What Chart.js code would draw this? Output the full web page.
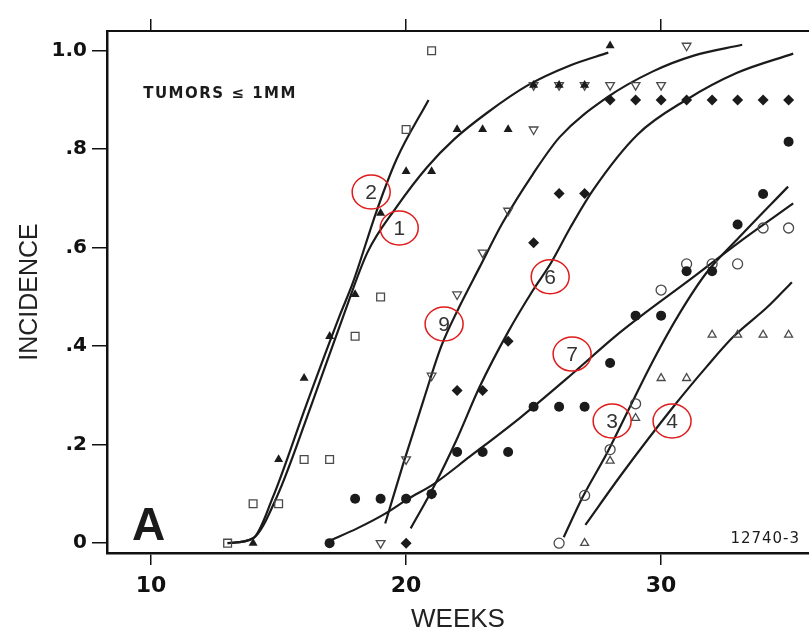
<!DOCTYPE html>
<html>
<head>
<meta charset="utf-8">
<script src="https://cdn.jsdelivr.net/npm/chart.js@4.4.1/dist/chart.umd.min.js"></script>
<style>
  html, body { margin: 0; padding: 0; background: #fff; overflow: hidden; }
  #wrap { width: 809px; height: 630px; }
  canvas { display: block; }
</style>
</head>
<body>
<div id="wrap"><canvas id="chart" width="809" height="630"></canvas></div>
<script>
// axis ticks
const xTicks = [10, 20, 30];
const yTicks = [0, 0.2, 0.4, 0.6, 0.8, 1.0];
const yTickLabels = ["0", ".2", ".4", ".6", ".8", "1.0"];

// observed incidence, one array pair per symbol
const squareWeeks = [13, 14, 15, 16, 17, 18, 19, 20, 21];
const squareVals  = [0, 0.08, 0.08, 0.17, 0.17, 0.42, 0.5, 0.84, 1.0];

const triWeeks = [14, 15, 16, 17, 18, 19, 20, 21, 22, 23, 24, 25, 26, 27, 28];
const triVals  = [0, 0.17, 0.335, 0.42, 0.505, 0.67, 0.755, 0.755, 0.84, 0.84, 0.84, 0.93, 0.93, 0.93, 1.01];

const downWeeks = [19, 20, 21, 22, 23, 24, 25, 25, 26, 27, 28, 29, 30, 31];
const downVals  = [0, 0.17, 0.34, 0.505, 0.59, 0.675, 0.84, 0.93, 0.93, 0.93, 0.93, 0.93, 0.93, 1.01];

const diamondWeeks = [20, 21, 22, 23, 24, 25, 26, 27, 28, 29, 30, 31, 32, 33, 34, 35];
const diamondVals  = [0, 0.1, 0.31, 0.31, 0.41, 0.61, 0.71, 0.71, 0.9, 0.9, 0.9, 0.9, 0.9, 0.9, 0.9, 0.9];

const dotWeeks = [17, 18, 19, 20, 21, 22, 23, 24, 25, 26, 27, 28, 29, 30, 31, 32, 33, 34, 35];
const dotVals  = [0, 0.09, 0.09, 0.09, 0.1, 0.185, 0.185, 0.185, 0.277, 0.277, 0.277, 0.366, 0.462, 0.462, 0.552, 0.552, 0.647, 0.709, 0.815];

const ringWeeks = [26, 27, 28, 29, 30, 31, 32, 33, 34, 35];
const ringVals  = [0, 0.097, 0.19, 0.283, 0.514, 0.567, 0.567, 0.567, 0.64, 0.64];

const openTriWeeks = [27, 28, 29, 30, 31, 32, 33, 34, 35];
const openTriVals  = [0, 0.167, 0.254, 0.335, 0.335, 0.423, 0.423, 0.423, 0.423];

// fitted curves
const curve1Weeks = [13, 14, 14.93, 16.28, 17.53, 18.48, 19.63, 20.83, 21.88, 23.18, 24.78, 26.43, 27.93];
const curve1Vals  = [0, 0.01, 0.094, 0.28, 0.46, 0.59, 0.683, 0.764, 0.82, 0.874, 0.93, 0.97, 0.996];

const curve2Weeks = [13, 14, 14.78, 16.08, 17.38, 17.92, 18.86, 19.63, 20.88];
const curve2Vals  = [0, 0.01, 0.094, 0.28, 0.46, 0.53, 0.677, 0.78, 0.9];

const curve9Weeks = [19.18, 19.88, 20.68, 21.38, 22.04, 22.88, 23.78, 24.98, 26.03, 27.88, 29.68, 31.28, 33.18];
const curve9Vals  = [0.04, 0.16, 0.29, 0.4, 0.475, 0.56, 0.65, 0.75, 0.825, 0.905, 0.958, 0.99, 1.012];

const curve6Weeks = [20.18, 21.08, 21.98, 22.88, 23.98, 24.98, 25.68, 26.43, 27.33, 29.08, 30.98, 32.98, 35.18];
const curve6Vals  = [0.03, 0.114, 0.21, 0.317, 0.427, 0.514, 0.569, 0.64, 0.717, 0.83, 0.9, 0.955, 0.994];

const curve7Weeks = [17, 18.08, 19.18, 20.08, 21.08, 22.48, 24.48, 26.43, 28.2, 29.18, 31.13, 33.08, 35.18];
const curve7Vals  = [0.005, 0.03, 0.06, 0.09, 0.12, 0.175, 0.255, 0.34, 0.42, 0.46, 0.535, 0.612, 0.69];

const curve3Weeks = [26.18, 26.93, 27.88, 28.78, 29.68, 30.73, 31.78, 33.08, 34.98];
const curve3Vals  = [0.012, 0.094, 0.183, 0.277, 0.37, 0.467, 0.549, 0.622, 0.724];

const curve4Weeks = [27.03, 28.48, 30.48, 31.78, 32.83, 34.18, 35.13];
const curve4Vals  = [0.037, 0.142, 0.277, 0.358, 0.419, 0.48, 0.53];

// circled curve numbers
const curveNames = ["2", "1", "9", "6", "7", "3", "4"];
const nameWeeks  = [18.63, 19.73, 21.49, 25.65, 26.51, 28.08, 30.43];
const nameVals   = [0.713, 0.64, 0.445, 0.541, 0.384, 0.248, 0.248];

const pts = (xs, ys) => xs.map((x, i) => ({ x, y: ys[i] }));

const INK = "#1b1b1b";
const OPEN = "#4a4a4a";

function markers(data, style, radius, filled, rotation) {
  return {
    data,
    showLine: false,
    pointStyle: style,
    pointRadius: radius,
    rotation: rotation || 0,
    backgroundColor: filled ? INK : "rgba(255,255,255,0)",
    borderColor: filled ? INK : OPEN,
    borderWidth: filled ? 0 : 1.3
  };
}

function curve(data) {
  return {
    data,
    showLine: true,
    pointRadius: 0,
    borderColor: INK,
    borderWidth: 2.2,
    cubicInterpolationMode: "monotone",
    fill: false
  };
}

const notes = {
  id: "notes",
  afterDatasetsDraw(chart) {
    const { ctx, scales: { x, y } } = chart;
    ctx.save();
    ctx.fillStyle = INK;
    ctx.textBaseline = "alphabetic";

    ctx.font = "bold 15px 'DejaVu Sans'";
    ctx.letterSpacing = "1.5px";
    ctx.textAlign = "left";
    ctx.fillText("TUMORS \u2264 1MM", x.getPixelForValue(9.69), y.getPixelForValue(0.904));

    ctx.letterSpacing = "0px";
    ctx.font = "bold 46px 'Liberation Sans'";
    ctx.fillText("A", x.getPixelForValue(9.25), y.getPixelForValue(0.006));

    ctx.font = "15px 'DejaVu Sans'";
    ctx.letterSpacing = "1px";
    ctx.textAlign = "right";
    ctx.fillText("12740-3", x.getPixelForValue(35.45), y.getPixelForValue(0));
    ctx.letterSpacing = "0px";

    // red circles round the curve numbers
    ctx.font = "21px 'Liberation Sans'";
    ctx.textAlign = "center";
    ctx.textBaseline = "middle";
    curveNames.forEach((name, i) => {
      const px = x.getPixelForValue(nameWeeks[i]);
      const py = y.getPixelForValue(nameVals[i]);
      ctx.beginPath();
      ctx.ellipse(px, py, 19, 17, 0, 0, Math.PI * 2);
      ctx.strokeStyle = "#e01b1b";
      ctx.lineWidth = 1.5;
      ctx.stroke();
      ctx.fillStyle = "#333";
      ctx.fillText(name, px, py + 1);
    });
    ctx.restore();
  }
};

const xMin = 8.27;
const xMax = 35.8;

new Chart(document.getElementById("chart"), {
  type: "scatter",
  data: {
    datasets: [
      markers(pts(squareWeeks, squareVals), "rect", 5.5, false),
      markers(pts(triWeeks, triVals), "triangle", 5.2, true),
      markers(pts(downWeeks, downVals), "triangle", 5, false, 180),
      markers(pts(diamondWeeks, diamondVals), "rectRot", 5.5, true),
      markers(pts(dotWeeks, dotVals), "circle", 5, true),
      markers(pts(ringWeeks, ringVals), "circle", 5, false),
      markers(pts(openTriWeeks, openTriVals), "triangle", 4.6, false),
      curve(pts(curve1Weeks, curve1Vals)),
      curve(pts(curve2Weeks, curve2Vals)),
      curve(pts(curve9Weeks, curve9Vals)),
      curve(pts(curve6Weeks, curve6Vals)),
      curve(pts(curve7Weeks, curve7Vals)),
      curve(pts(curve3Weeks, curve3Vals)),
      curve(pts(curve4Weeks, curve4Vals))
    ]
  },
  options: {
    responsive: false,
    animation: false,
    events: [],
    layout: { padding: 0, autoPadding: false },
    plugins: { legend: { display: false }, tooltip: { enabled: false } },
    scales: {
      x: {
        type: "linear",
        position: "bottom",
        min: xMin,
        max: xMax,
        bounds: "data",
        afterBuildTicks: s => { s.ticks = xTicks.map(v => ({ value: v })); },
        afterFit: s => { s.height = 77; s.paddingLeft = 0; s.paddingRight = 0; },
        ticks: {
          font: { family: "'DejaVu Sans'", size: 22, weight: "bold" },
          color: "#111",
          padding: 8,
          maxRotation: 0,
          callback: v => String(v)
        },
        grid: { display: true, drawOnChartArea: false, drawTicks: true, tickLength: 12, color: "#111", lineWidth: 1.5 },
        border: { display: true, color: "#111", width: 2.5 },
        title: {
          display: true,
          text: "WEEKS",
          font: { family: "'Liberation Sans'", size: 26, lineHeight: 1 },
          color: "#222",
          padding: { top: 0, bottom: -3 }
        }
      },
      x2: {
        type: "linear",
        position: "top",
        min: xMin,
        max: xMax,
        bounds: "data",
        afterBuildTicks: s => { s.ticks = xTicks.map(v => ({ value: v })); },
        afterFit: s => { s.height = 31; s.paddingLeft = 0; s.paddingRight = 0; },
        ticks: { display: false },
        grid: { display: true, drawOnChartArea: false, drawTicks: true, tickLength: 12, color: "#111", lineWidth: 1.5 },
        border: { display: true, color: "#111", width: 2 }
      },
      y: {
        min: -0.02,
        max: 1.04,
        bounds: "data",
        afterBuildTicks: s => { s.ticks = yTicks.map(v => ({ value: v })); },
        afterFit: s => { s.width = 107; },
        ticks: {
          font: { family: "'DejaVu Sans'", size: 20, weight: "bold" },
          color: "#111",
          padding: 5,
          callback: (v, i) => yTickLabels[i]
        },
        grid: { display: true, drawOnChartArea: false, drawTicks: true, tickLength: 15, color: "#111", lineWidth: 1.5 },
        border: { display: true, color: "#111", width: 2.5 },
        title: {
          display: true,
          text: "INCIDENCE",
          font: { family: "'Liberation Sans'", size: 25, lineHeight: 1 },
          color: "#222",
          padding: { top: 18, bottom: 0 }
        }
      }
    }
  },
  plugins: [notes]
});
</script>
</body>
</html>
